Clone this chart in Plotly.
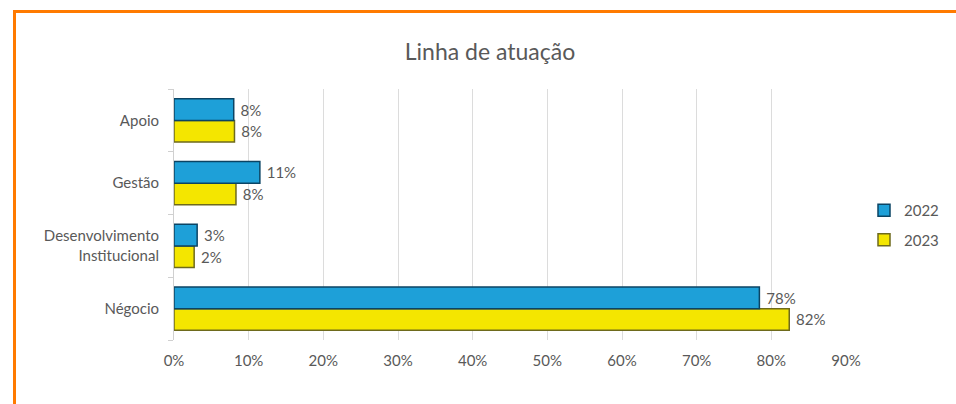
import plotly.graph_objects as go

categories = ["Négocio", "Desenvolvimento<br>Institucional", "Gestão", "Apoio"]
values_2022 = [0.784, 0.031, 0.115, 0.08]
values_2023 = [0.824, 0.027, 0.083, 0.081]
labels_2022 = ["78%", "3%", "11%", "8%"]
labels_2023 = ["82%", "2%", "8%", "8%"]
x_ticks = [0, 0.1, 0.2, 0.3, 0.4, 0.5, 0.6, 0.7, 0.8, 0.9]

FONT = "Lato, 'Open Sans', sans-serif"
GRAY = "#595959"
FS = 15
NBSP = "\u00a0"

fig = go.Figure()
fig.add_trace(go.Bar(
    y=categories, x=values_2023, name="2023", orientation="h",
    legendgroup="b", legendrank=2,
    marker=dict(color="#F4E600", line=dict(color="#6E6A1C", width=1.5)),
    text=[NBSP + t for t in labels_2023], textposition="outside", cliponaxis=False,
    textfont=dict(size=FS, color=GRAY, family=FONT),
))
fig.add_trace(go.Bar(
    y=categories, x=values_2022, name="2022", orientation="h",
    legendgroup="a", legendrank=1,
    marker=dict(color="#1EA0D8", line=dict(color="#0B4464", width=1.5)),
    text=[NBSP + t for t in labels_2022], textposition="outside", cliponaxis=False,
    textfont=dict(size=FS, color=GRAY, family=FONT),
))

L, R, T, B = 174, 110, 89, 64
W, H = 956, 404
pw, ph = W - L - R, H - T - B

def px_x(p):
    return (p - L) / pw

def px_y(p):
    return (H - B - p) / ph

ORANGE = "#FF7A00"
shapes = [
    dict(type="line", xref="paper", yref="paper", x0=px_x(13), x1=px_x(970),
         y0=px_y(11.5), y1=px_y(11.5), line=dict(color=ORANGE, width=3)),
    dict(type="line", xref="paper", yref="paper", x0=px_x(14.5), x1=px_x(14.5),
         y0=px_y(10), y1=px_y(420), line=dict(color=ORANGE, width=3)),
]

fig.update_layout(
    width=W, height=H,
    margin=dict(l=L, r=R, t=T, b=B, autoexpand=False),
    paper_bgcolor="white", plot_bgcolor="white",
    barmode="group", bargap=0.31, bargroupgap=0.0,
    title=dict(text="Linha de atuação", x=490 / W, xref="container", xanchor="center",
               y=1 - 52 / H, yref="container", yanchor="middle",
               font=dict(size=23, color=GRAY, family=FONT)),
    font=dict(family=FONT, color=GRAY, size=FS),
    xaxis=dict(range=[0, 0.9], tickvals=x_ticks, tickformat=".0%",
               showgrid=True, gridcolor="#DCDCDC", gridwidth=1,
               zeroline=False, showline=False, ticks="",
               ticklabelstandoff=10,
               tickfont=dict(size=FS, color=GRAY, family=FONT)),
    yaxis=dict(showline=True, linecolor="#D0D0D0", linewidth=1,
               ticks="outside", tickson="boundaries", ticklen=5, tickcolor="#D0D0D0",
               showgrid=False, tickfont=dict(size=FS, color=GRAY, family=FONT),
               ticklabelstandoff=11),
    legend=dict(x=864 / W, xref="container", xanchor="left",
                y=1 - 225 / H, yref="container", yanchor="middle",
                traceorder="grouped", tracegroupgap=7,
                font=dict(size=FS, color=GRAY, family=FONT),
                itemwidth=30, bgcolor="rgba(0,0,0,0)"),
    shapes=shapes,
    showlegend=True,
)

fig.write_html("out.html", config={"displayModeBar": False},
               post_script="document.body.style.margin='0';")
